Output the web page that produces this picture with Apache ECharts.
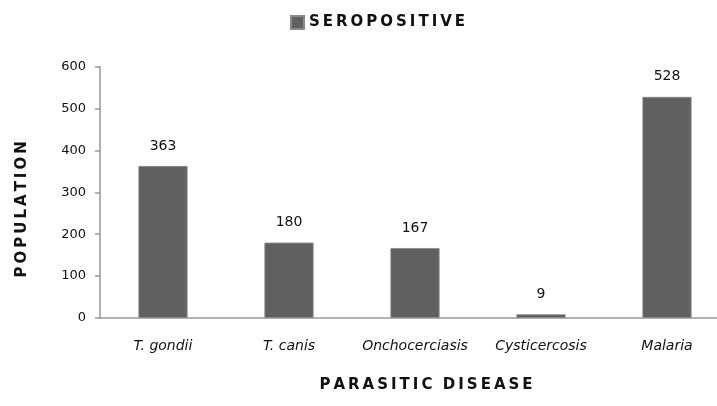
<!DOCTYPE html>
<html>
<head>
<meta charset="utf-8">
<script src="https://cdn.jsdelivr.net/npm/echarts@6/dist/echarts.min.js"></script>
<style>
    html, body { margin: 0; padding: 0; background: #fff; overflow: hidden; }
    /* 原图右侧被裁掉一截，画布做宽一些 */
    #chart { width: 730px; height: 406px; }
</style>
</head>
<body>
<div id="chart"></div>
<script>
// 数据
const categories = ['T. gondii', 'T. canis', 'Onchocerciasis', 'Cysticercosis', 'Malaria'];
const seropositive = [363, 180, 167, 9, 528];
const yTicks = [0, 100, 200, 300, 400, 500, 600];

// 字母间加细空格，模仿原图的宽字距
function spaced(s) {
    return s.split('').join('\u2009');
}

const chart = echarts.init(document.getElementById('chart'));

const option = {
    animation: false,
    textStyle: { fontFamily: 'DejaVu Sans' },
    legend: {
        left: 285,
        top: 10,
        itemWidth: 13,
        itemHeight: 13,
        itemGap: 6,
        icon: 'rect',
        formatter: name => spaced(name),
        textStyle: { color: '#111', fontWeight: 'bold', fontSize: 15, fontFamily: 'DejaVu Sans' }
    },
    grid: { left: 100, right: 0, top: 66.7, bottom: 88 },
    xAxis: {
        type: 'category',
        data: categories,
        name: spaced('PARASITIC') + '  ' + spaced('DISEASE'),
        nameLocation: 'middle',
        nameGap: 60,
        nameTextStyle: { color: '#111', fontWeight: 'bold', fontSize: 15, padding: [0, 0, 0, 22] },
        axisLine: { lineStyle: { color: '#999', width: 1.5 } },
        axisTick: { show: false },
        axisLabel: { color: '#111', fontStyle: 'italic', fontSize: 14, margin: 21, interval: 0 }
    },
    yAxis: {
        type: 'value',
        min: 0,
        max: 600,
        interval: 100,
        name: spaced('POPULATION'),
        nameLocation: 'middle',
        nameGap: 70,
        nameTextStyle: { color: '#111', fontWeight: 'bold', fontSize: 15, padding: [0, 34, 0, 0] },
        axisLine: { show: true, lineStyle: { color: '#999', width: 1.5 } },
        axisTick: { show: true, length: 5, lineStyle: { color: '#999', width: 1.5 } },
        splitLine: { show: false },
        axisLabel: {
            color: '#111', fontSize: 13, margin: 14,
            formatter: v => yTicks.includes(v) ? String(v) : ''
        }
    },
    series: [{
        name: 'SEROPOSITIVE',
        type: 'bar',
        data: seropositive,
        barWidth: '39%',
        itemStyle: { color: '#606060', borderColor: '#8a8a8a', borderWidth: 0.8 },
        label: { show: true, position: 'top', distance: 13, color: '#111', fontSize: 14 }
    }]
};

chart.setOption(option);
</script>
</body>
</html>
